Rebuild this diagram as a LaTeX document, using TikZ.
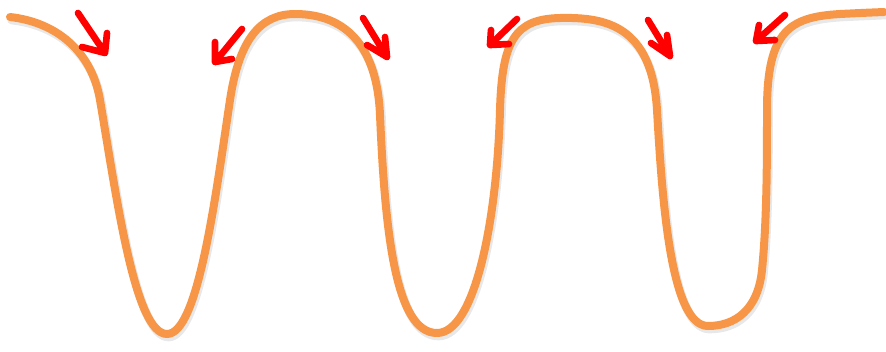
\documentclass[tikz,border=0pt]{standalone}
\definecolor{curveorange}{HTML}{F79646}
\definecolor{arrowred}{HTML}{FF0000}
\tikzset{
  wave/.style={draw=curveorange, line width=6pt, line cap=round, line join=round},
  waveshadow/.style={draw=black!30, opacity=0.3, line width=6.5pt, line cap=round, line join=round},
  redarrow/.style={draw=arrowred, line width=5pt, line cap=round, line join=round}
}
\newcommand{\wavepath}{(10,17) .. controls (55,22) and (91.5,50) .. (100,100)
  .. controls (117,200) and (135,334) .. (167,334)
  .. controls (198,334) and (215,200) .. (230,100)
  .. controls (239,40) and (260,14) .. (295,14)
  .. controls (345,14) and (377,45) .. (380,115)
  .. controls (385,230) and (395,333) .. (437,333)
  .. controls (475,333) and (497,220) .. (500,110)
  .. controls (502,40) and (515,19) .. (560,18)
  .. controls (605,17) and (652,25) .. (657,110)
  .. controls (662,195) and (670,326) .. (708,326)
  .. controls (735,326) and (758,310) .. (762,270)
  .. controls (767,220) and (767,160) .. (767,110)
  .. controls (767,30) and (790,17) .. (840,14)
  .. controls (860,13) .. (884,12)}
\begin{document}
\begin{tikzpicture}[x=0.75pt,y=-0.75pt]
\useasboundingbox (0,0) rectangle (886,351);
\draw[waveshadow, shift={(1.5,3)}] \wavepath;
\draw[wave] \wavepath;
% arrows
\coordinate (a1s) at (78,13);  \coordinate (a1t) at (105,53);
\coordinate (a1l) at (82,47);  \coordinate (a1r) at (107,33);
\draw[redarrow] (a1s) -- (a1t) (a1l) -- (a1t) -- (a1r);
\coordinate (a2s) at (242,29); \coordinate (a2t) at (215,62);
\coordinate (a2l) at (215,42); \coordinate (a2r) at (232,59);
\draw[redarrow] (a2s) -- (a2t) (a2l) -- (a2t) -- (a2r);
\coordinate (a3s) at (363,18); \coordinate (a3t) at (387,57);
\coordinate (a3l) at (367,45); \coordinate (a3r) at (385,37);
\draw[redarrow] (a3s) -- (a3t) (a3l) -- (a3t) -- (a3r);
\coordinate (a4s) at (517,19); \coordinate (a4t) at (490,45);
\coordinate (a4l) at (491,30); \coordinate (a4r) at (509,44);
\draw[redarrow] (a4s) -- (a4t) (a4l) -- (a4t) -- (a4r);
\coordinate (a5s) at (648,20); \coordinate (a5t) at (670,56);
\coordinate (a5l) at (651,43); \coordinate (a5r) at (667,35);
\draw[redarrow] (a5s) -- (a5t) (a5l) -- (a5t) -- (a5r);
\coordinate (a6s) at (785,15); \coordinate (a6t) at (756,41);
\coordinate (a6l) at (759,25); \coordinate (a6r) at (775,40);
\draw[redarrow] (a6s) -- (a6t) (a6l) -- (a6t) -- (a6r);
\end{tikzpicture}
\end{document}
